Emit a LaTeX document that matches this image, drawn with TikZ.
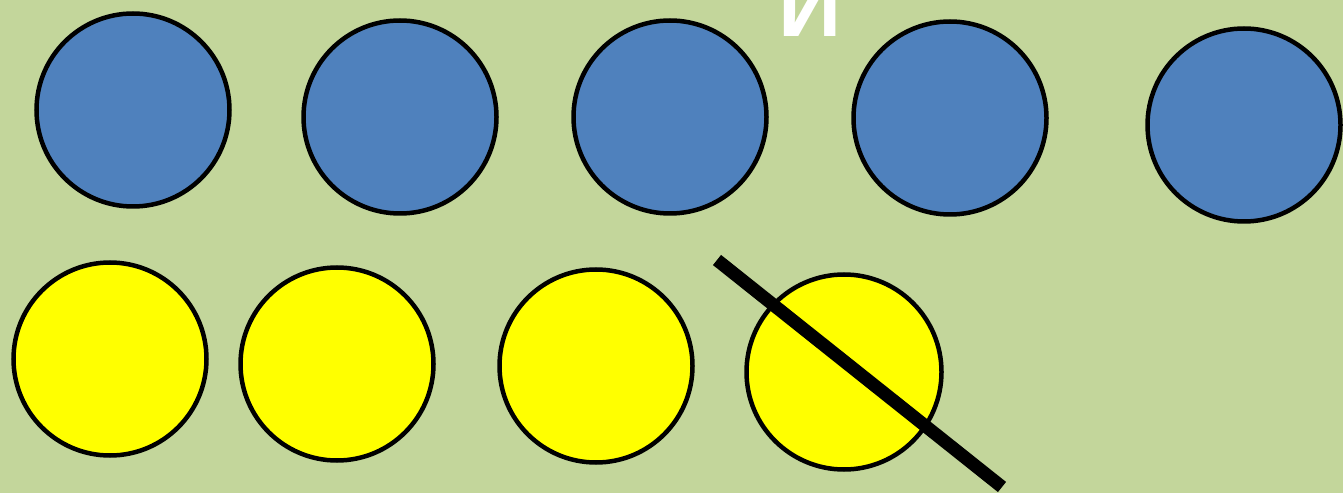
\documentclass[tikz,border=0pt]{standalone}
\usepackage{fontspec}
\setmainfont{Liberation Sans}
\definecolor{bg}{HTML}{C3D69B}
\definecolor{bluec}{HTML}{4F81BD}
\definecolor{yellowc}{HTML}{FFFF00}
\begin{document}
\begin{tikzpicture}[x=1pt,y=1pt,
  coin/.style={circle,draw=black,line width=4.5pt,inner sep=0pt,minimum size=193pt},
  bluecoin/.style={coin,fill=bluec},
  yellowcoin/.style={coin,fill=yellowc}]
\fill[bg] (0,0) rectangle (1343,493);
\useasboundingbox (0,0) rectangle (1343,493);
\node[anchor=base,text=white,font=\bfseries\fontsize{88}{88}\selectfont,inner sep=0pt] (t) at (810,456) {И};
\node[bluecoin] (b1) at (133,383) {};
\node[bluecoin] (b2) at (400,376) {};
\node[bluecoin] (b3) at (670,376) {};
\node[bluecoin] (b4) at (950,375) {};
\node[bluecoin] (b5) at (1244,368) {};
\node[yellowcoin] (y1) at (110,134) {};
\node[yellowcoin] (y2) at (337,129) {};
\node[yellowcoin] (y3) at (596,127) {};
\node[yellowcoin,minimum size=195pt] (y4) at (844,121) {};
\coordinate (s1) at (717,233);
\coordinate (s2) at (1002,6);
\draw[line width=13pt] (s1) -- (s2);
\end{tikzpicture}
\end{document}
